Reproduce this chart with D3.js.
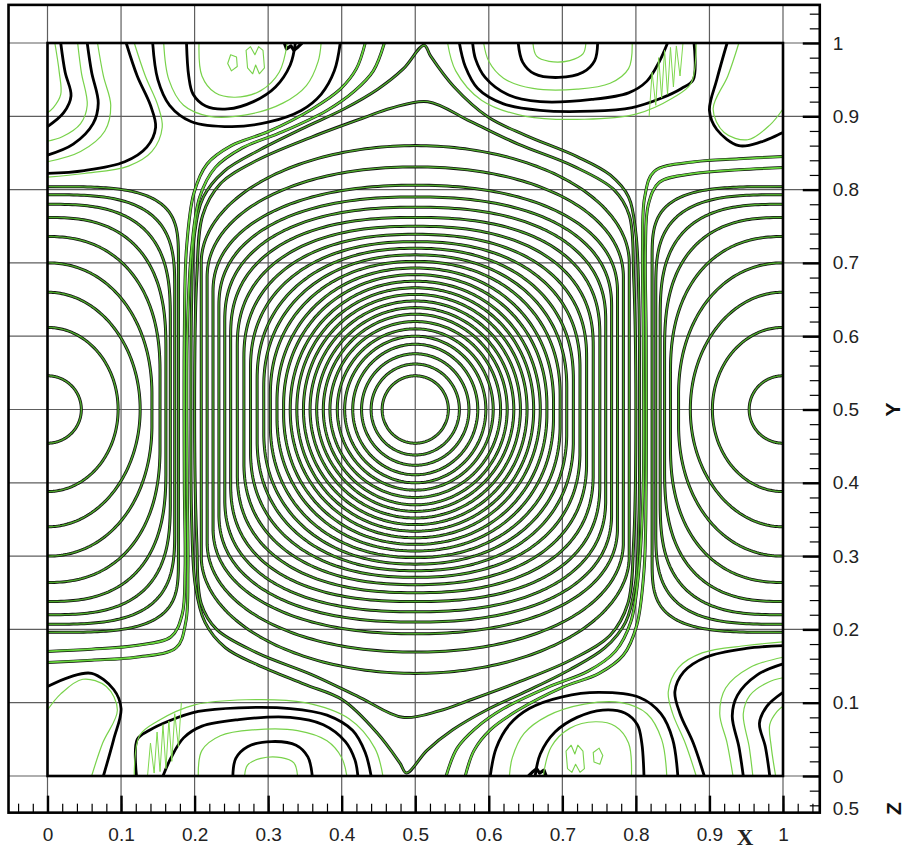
<!DOCTYPE html>
<html>
<head>
<meta charset="utf-8">
<script src="https://cdn.jsdelivr.net/npm/d3@7"></script>
<style>
  body { margin: 0; background: #fff; }
  svg { display: block; font-family: "Liberation Sans", Arial, sans-serif; }
</style>
</head>
<body>
<svg id="chart" width="906" height="850"></svg>
<script>
// axis ticks
const majorTicks = [0, 0.1, 0.2, 0.3, 0.4, 0.5, 0.6, 0.7, 0.8, 0.9, 1];
const xTickLabels = ["0", "0.1", "0.2", "0.3", "0.4", "0.5", "0.6", "0.7", "0.8", "0.9", "1"];
const yTickLabels = ["0", "0.1", "0.2", "0.3", "0.4", "0.5", "0.6", "0.7", "0.8", "0.9", "1"];
const zValue = "0.5";

// central vortex rings (centre 0.5,0.5): half width, half height, straight part, squareness
const ringRx = [0.045, 0.060, 0.073, 0.085, 0.096, 0.106, 0.116, 0.125, 0.134, 0.143, 0.152, 0.161, 0.170, 0.179, 0.188, 0.197, 0.206, 0.215, 0.224, 0.233, 0.242, 0.251, 0.259, 0.267, 0.275, 0.283, 0.291];
const ringRy = [0.046, 0.062, 0.076, 0.089, 0.100, 0.110, 0.120, 0.130, 0.139, 0.148, 0.157, 0.166, 0.175, 0.184, 0.193, 0.202, 0.211, 0.220, 0.229, 0.239, 0.250, 0.262, 0.276, 0.290, 0.306, 0.331, 0.360];
const ringFlat = [0, 0, 0, 0, 0, 0, 0, 0, 0, 0, 0, 0, 0, 0.005, 0.010, 0.020, 0.030, 0.040, 0.055, 0.070, 0.085, 0.100, 0.120, 0.140, 0.160, 0.180, 0.200];
const ringPow = [2, 2, 2, 2, 2, 2, 2, 2, 2, 2.02, 2.04, 2.06, 2.08, 2.1, 2.12, 2.15, 2.18, 2.22, 2.26, 2.3, 2.35, 2.4, 2.35, 2.3, 2.2, 2.1, 2.0];

// side vortex rings (at x=0 and x=1, y=0.5)
const sideRx = [0.046, 0.096, 0.126, 0.142, 0.153, 0.161, 0.167, 0.173, 0.178];
const sideRy = [0.046, 0.112, 0.160, 0.200, 0.236, 0.262, 0.280, 0.293, 0.304];
const sideFlat = [0, 0, 0, 0.02, 0.05, 0.08, 0.12, 0.16, 0.20];
const sidePow = [2, 2, 2, 2.1, 2.3, 2.6, 2.9, 3.2, 3.6];

// outer cell lines
const hexRing = [[0.483,0.080],[0.533,0.089],[0.570,0.102],[0.640,0.128],[0.715,0.160],[0.765,0.192],[0.789,0.235],[0.797,0.32],[0.800,0.5],[0.797,0.68],[0.791,0.765],[0.770,0.800],[0.715,0.832],[0.640,0.862],[0.575,0.893],[0.517,0.920],[0.467,0.911],[0.430,0.898],[0.360,0.872],[0.285,0.840],[0.235,0.808],[0.211,0.765],[0.203,0.68],[0.200,0.5],[0.203,0.32],[0.209,0.235],[0.230,0.200],[0.285,0.168],[0.360,0.138],[0.425,0.107]];
const separatrix = [[0.488,0.004],[0.516,0.035],[0.551,0.063],[0.597,0.090],[0.650,0.115],[0.710,0.145],[0.758,0.175],[0.786,0.21],[0.799,0.26],[0.804,0.35],[0.805,0.5],[0.804,0.65],[0.800,0.74],[0.790,0.79],[0.765,0.82],[0.720,0.845],[0.650,0.874],[0.599,0.899],[0.552,0.941],[0.521,0.982],[0.512,0.997],[0.484,0.965],[0.449,0.937],[0.403,0.91],[0.350,0.885],[0.290,0.855],[0.240,0.825],[0.212,0.79],[0.2,0.74],[0.196,0.65],[0.195,0.5],[0.196,0.35],[0.201,0.26],[0.214,0.21],[0.242,0.175],[0.285,0.152],[0.350,0.125],[0.401,0.104],[0.448,0.059],[0.479,0.018]];

// channel lines, top-left origin (the figure is point symmetric about the centre)
const fanA = [[0.432,1.0],[0.42,0.965],[0.398,0.937],[0.36,0.91],[0.30,0.879],[0.25,0.86],[0.217,0.835],[0.199,0.795],[0.189,0.72],[0.186,0.6],[0.186,0.4],[0.187,0.28],[0.183,0.22],[0.168,0.19],[0.12,0.178],[0.06,0.173],[0.0,0.17]];
const fanB = [[0.458,1.0],[0.443,0.962],[0.418,0.935],[0.38,0.908],[0.32,0.879],[0.265,0.857],[0.228,0.83],[0.207,0.79],[0.196,0.72],[0.190,0.6],[0.190,0.4],[0.191,0.28],[0.188,0.21],[0.175,0.175],[0.12,0.162],[0.06,0.158],[0.0,0.155]];

// top-left corner lines
const cornerA = [[0.018,1.0],[0.024,0.96],[0.032,0.928],[0.022,0.905],[0.0,0.886]];
const cornerB = [[0.054,1.0],[0.060,0.96],[0.069,0.918],[0.062,0.89],[0.035,0.862],[0.0,0.847]];
const cornerC = [[0.107,1.0],[0.122,0.955],[0.140,0.915],[0.147,0.885],[0.135,0.858],[0.105,0.838],[0.05,0.826],[0.0,0.822]];
const loopD = [[0.143,1.0],[0.150,0.95],[0.166,0.915],[0.195,0.893],[0.25,0.886],[0.30,0.892],[0.345,0.908],[0.372,0.93],[0.39,0.962],[0.398,1.0]];
const loopE = [[0.189,1.0],[0.192,0.955],[0.198,0.93],[0.215,0.914],[0.245,0.91],[0.28,0.92],[0.31,0.94],[0.33,0.97],[0.337,1.0]];
const greenA = [[0.010,1.0],[0.016,0.96],[0.018,0.93],[0.008,0.912],[0.0,0.905]];
const greenB = [[0.041,1.0],[0.046,0.96],[0.054,0.915],[0.045,0.89],[0.02,0.872],[0.0,0.866]];
const greenC = [[0.068,1.0],[0.076,0.955],[0.086,0.915],[0.078,0.88],[0.045,0.852],[0.0,0.838]];
const greenC2 = [[0.118,1.0],[0.133,0.955],[0.150,0.915],[0.156,0.885],[0.142,0.852],[0.11,0.832],[0.05,0.822],[0.0,0.817]];
const greenD = [[0.158,1.0],[0.165,0.95],[0.185,0.915],[0.22,0.9],[0.27,0.902],[0.32,0.918],[0.352,0.942],[0.368,0.975],[0.372,1.0]];
const greenE = [[0.206,1.0],[0.210,0.955],[0.228,0.932],[0.255,0.926],[0.29,0.935],[0.315,0.96],[0.326,1.0]];
const greenBlob1 = [[0.245,0.972],[0.249,0.984],[0.257,0.981],[0.258,0.968],[0.25,0.962]];
const greenBlob2 = [[0.27,0.99],[0.272,0.966],[0.279,0.958],[0.283,0.97],[0.288,0.958],[0.295,0.966],[0.293,0.99],[0.287,0.995],[0.282,0.984],[0.276,0.995]];
const blackBlob = [[0.322,1.0],[0.325,0.992],[0.331,0.996],[0.335,0.99],[0.341,0.995],[0.346,1.0]];

// bottom-left corner lines
const cornerLoop = [[0.076,0.0],[0.09,0.05],[0.1,0.092],[0.09,0.118],[0.06,0.14],[0.03,0.135],[0.0,0.122]];
const cornerLoopGreen = [[0.06,0.0],[0.075,0.045],[0.095,0.09],[0.08,0.122],[0.048,0.132],[0.018,0.112],[0.0,0.09]];
const loopL1 = [[0.252,0.0],[0.256,0.024],[0.272,0.04],[0.305,0.047],[0.338,0.042],[0.354,0.026],[0.36,0.0]];
const loopL1g = [[0.268,0.0],[0.272,0.015],[0.29,0.024],[0.318,0.025],[0.335,0.018],[0.34,0.0]];
const loopL2 = [[0.157,0.0],[0.168,0.025],[0.185,0.052],[0.21,0.068],[0.26,0.077],[0.33,0.08],[0.375,0.07],[0.405,0.047],[0.418,0.022],[0.422,0.0]];
const loopL2g = [[0.205,0.0],[0.21,0.035],[0.235,0.055],[0.28,0.063],[0.34,0.062],[0.38,0.048],[0.4,0.025],[0.407,0.0]];
const loopL3 = [[0.121,0.0],[0.122,0.05],[0.138,0.062],[0.165,0.075],[0.205,0.088],[0.26,0.093],[0.33,0.092],[0.38,0.083],[0.415,0.062],[0.432,0.032],[0.44,0.0]];
const loopL3g = [[0.118,0.0],[0.125,0.055],[0.15,0.075],[0.2,0.097],[0.27,0.104],[0.35,0.1],[0.41,0.078],[0.445,0.038],[0.456,0.0]];
const greenZigzag = [[0.136,0.0],[0.14,0.045],[0.145,0.004],[0.149,0.06],[0.153,0.006],[0.157,0.07],[0.161,0.01],[0.165,0.075],[0.169,0.02],[0.173,0.085],[0.178,0.04],[0.182,0.1]];

const svg = d3.select("#chart");

const x = d3.scaleLinear().domain([0, 1]).range([47.5, 783]);
const y = d3.scaleLinear().domain([0, 1]).range([776, 43]);
// same lines turned half a turn round the centre
const xm = d3.scaleLinear().domain([0, 1]).range([783, 47.5]);
const ym = d3.scaleLinear().domain([0, 1]).range([43, 776]);

const frameX = [-0.053, 1.05];
const frameY = [-0.05, 1.052];

// grid
const grid = svg.append("g");
grid.selectAll("line.v").data(majorTicks).join("line").attr("class", "v")
  .attr("x1", d => x(d)).attr("x2", d => x(d))
  .attr("y1", y(frameY[1])).attr("y2", y(frameY[0]))
  .attr("stroke", "#5e5e5e").attr("stroke-width", 1.2);
grid.selectAll("line.h").data(majorTicks).join("line").attr("class", "h")
  .attr("y1", d => y(d)).attr("y2", d => y(d))
  .attr("x1", x(frameX[0])).attr("x2", x(frameX[1]))
  .attr("stroke", "#5e5e5e").attr("stroke-width", 1.2);

// outline of a rounded ring, as points in data units
const outline = (cx, cy, rx, ry, flat, pw, t0, t1, n, dir) => {
  const e = 2 / pw;
  return d3.range(n + 1).map(i => {
    const t = t0 + (t1 - t0) * i / n;
    const c = Math.cos(t), s = Math.sin(t);
    const sy = s >= 0 ? 1 : -1;
    const dx = rx * Math.sign(c) * Math.pow(Math.abs(c), e);
    const dy = sy * (flat + (ry - flat) * Math.pow(Math.abs(s), e));
    return [cx + dir * dx, cy + dy];
  });
};

const central = ringRx.map((r, i) =>
  outline(0.5, 0.5, r, ringRy[i], ringFlat[i], ringPow[i], 0, 2 * Math.PI * (1 - 1 / 240), 239, 1));
const sideLeft = sideRx.map((r, i) =>
  outline(0, 0.5, r, sideRy[i], sideFlat[i], sidePow[i], Math.PI / 2, -Math.PI / 2, 160, 1));
const sideRight = sideRx.map((r, i) =>
  outline(1, 0.5, r, sideRy[i], sideFlat[i], sidePow[i], Math.PI / 2, -Math.PI / 2, 160, -1));

const lineOf = (sx, sy, curve) => d3.line().x(d => sx(d[0])).y(d => sy(d[1])).curve(curve);
const linClosed = lineOf(x, y, d3.curveLinearClosed);
const linOpen = lineOf(x, y, d3.curveLinear);
const smoothClosed = lineOf(x, y, d3.curveCatmullRomClosed.alpha(0.5));
const smooth = lineOf(x, y, d3.curveCatmullRom.alpha(0.5));
const smoothM = lineOf(xm, ym, d3.curveCatmullRom.alpha(0.5));
const linClosedM = lineOf(xm, ym, d3.curveLinearClosed);
const linOpenM = lineOf(xm, ym, d3.curveLinear);

// lines where both fields agree: black underneath, green on top
const dualPaths = [];
central.forEach(p => dualPaths.push({ d: linClosed(p), fan: false }));
sideLeft.concat(sideRight).forEach(p => dualPaths.push({ d: linOpen(p), fan: false }));
dualPaths.push({ d: smoothClosed(hexRing), fan: false });
dualPaths.push({ d: smoothClosed(separatrix), fan: false });
[fanA, fanB].forEach(p => {
  dualPaths.push({ d: smooth(p), fan: true });
  dualPaths.push({ d: smoothM(p), fan: true });
});

const dual = svg.append("g").attr("fill", "none").attr("stroke-linejoin", "round");
dual.selectAll("path.k").data(dualPaths).join("path").attr("class", "k")
  .attr("d", d => d.d).attr("stroke", "#111").attr("stroke-width", 3);
dual.selectAll("path.g").data(dualPaths).join("path").attr("class", "g")
  .attr("d", d => d.d)
  .attr("stroke", d => d.fan ? "#66d43b" : "#4da82b")
  .attr("stroke-width", d => d.fan ? 1.8 : 1.4);

// corner lines
const blackLines = [cornerA, cornerB, cornerC, loopD, loopE, cornerLoop, loopL1, loopL2, loopL3];
const greenLines = [greenA, greenB, greenC, greenC2, greenD, greenE, cornerLoopGreen, loopL1g, loopL2g, loopL3g];
const greenShapes = [greenBlob1, greenBlob2];

const corners = svg.append("g").attr("fill", "none").attr("stroke-linejoin", "round");
[smooth, smoothM].forEach((gen, k) => {
  corners.append("g").selectAll("path").data(blackLines).join("path")
    .attr("d", gen).attr("stroke", "#000").attr("stroke-width", 2.8);
  corners.append("path").datum(blackBlob)
    .attr("d", k === 0 ? linOpen : linOpenM).attr("stroke", "#000").attr("stroke-width", 3.2);
});
[smooth, smoothM].forEach((gen, k) => {
  corners.append("g").selectAll("path").data(greenLines).join("path")
    .attr("d", gen).attr("stroke", "#78d24a").attr("stroke-width", 1.2);
  corners.append("g").selectAll("path").data(greenShapes).join("path")
    .attr("d", k === 0 ? linClosed : linClosedM).attr("stroke", "#78d24a").attr("stroke-width", 1.1);
  corners.append("path").datum(greenZigzag)
    .attr("d", k === 0 ? linOpen : linOpenM).attr("stroke", "#7fd84e").attr("stroke-width", 1);
});

// domain box and outer frame
svg.append("rect")
  .attr("x", x(0)).attr("y", y(1)).attr("width", x(1) - x(0)).attr("height", y(0) - y(1))
  .attr("fill", "none").attr("stroke", "#000").attr("stroke-width", 2.6);
svg.append("rect")
  .attr("x", x(frameX[0])).attr("y", y(frameY[1]))
  .attr("width", x(frameX[1]) - x(frameX[0])).attr("height", y(frameY[0]) - y(frameY[1]))
  .attr("fill", "none").attr("stroke", "#000").attr("stroke-width", 2.6);

// ticks
const minorTicks = d3.range(-0.04, 1.041, 0.02).map(v => +v.toFixed(2));
const styleTicks = (g, w) => {
  g.select(".domain").remove();
  g.selectAll(".tick line").attr("stroke", "#000").attr("stroke-width", w);
};
svg.append("g").attr("transform", `translate(0,${y(frameY[0])})`)
  .call(d3.axisTop(x).tickValues(minorTicks).tickSize(9).tickFormat(""))
  .call(g => styleTicks(g, 1.2));
svg.append("g").attr("transform", `translate(0,${y(frameY[0])})`)
  .call(d3.axisTop(x).tickValues(majorTicks).tickSize(17).tickFormat(""))
  .call(g => styleTicks(g, 2.4));
svg.append("g").attr("transform", `translate(${x(frameX[1])},0)`)
  .call(d3.axisLeft(y).tickValues(minorTicks).tickSize(10).tickFormat(""))
  .call(g => styleTicks(g, 1.2));
svg.append("g").attr("transform", `translate(${x(frameX[1])},0)`)
  .call(d3.axisLeft(y).tickValues(majorTicks).tickSize(17).tickFormat(""))
  .call(g => styleTicks(g, 2.4));

// tick labels
svg.append("g").attr("transform", `translate(0,${y(frameY[0])})`)
  .call(d3.axisBottom(x).tickValues(majorTicks).tickSize(0).tickPadding(15)
    .tickFormat((d, i) => xTickLabels[i]))
  .call(g => g.select(".domain").remove())
  .call(g => g.selectAll("text").attr("font-size", 19).attr("fill", "#222")
    .attr("font-family", "Liberation Sans, Arial, sans-serif"));
svg.append("g").attr("transform", `translate(${x(frameX[1])},0)`)
  .call(d3.axisRight(y).tickValues(majorTicks).tickSize(0).tickPadding(13)
    .tickFormat((d, i) => yTickLabels[i]))
  .call(g => g.select(".domain").remove())
  .call(g => g.selectAll("text").attr("font-size", 19).attr("fill", "#222")
    .attr("font-family", "Liberation Sans, Arial, sans-serif"));

svg.append("text").attr("x", x(frameX[1]) + 13).attr("y", y(frameY[0]) - 4)
  .attr("dy", "0.35em").attr("font-size", 19).attr("fill", "#222").text(zValue);

// axis titles
svg.append("text").attr("x", 745).attr("y", 845).attr("text-anchor", "middle")
  .attr("font-family", "Liberation Serif, Times New Roman, serif").attr("font-weight", "bold")
  .attr("font-size", 23).attr("fill", "#222").text("X");
svg.append("text").attr("transform", `translate(893,${y(0.5)}) rotate(-90)`)
  .attr("text-anchor", "middle").attr("dy", "0.35em")
  .attr("font-weight", "bold").attr("font-size", 21).attr("fill", "#111").text("Y");
svg.append("text").attr("transform", `translate(894,${y(frameY[0]) - 4}) rotate(-90)`)
  .attr("text-anchor", "middle").attr("dy", "0.35em")
  .attr("font-weight", "bold").attr("font-size", 21).attr("fill", "#111").text("Z");
</script>
</body>
</html>
